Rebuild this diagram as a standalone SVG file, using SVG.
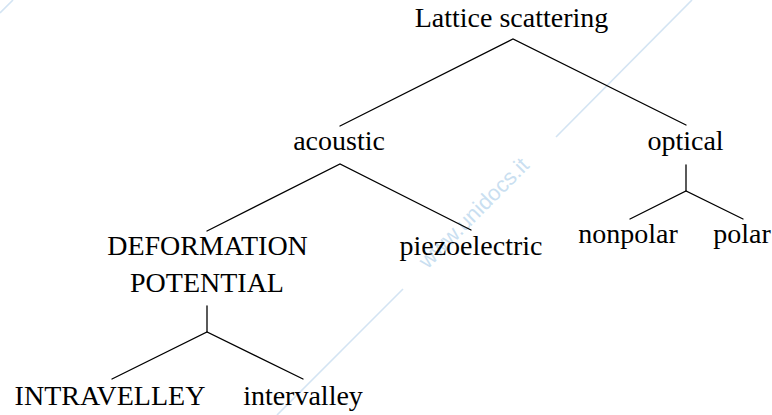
<svg xmlns="http://www.w3.org/2000/svg" width="772" height="415" viewBox="0 0 772 415">
  <style>
    .lbl { font-family: "Liberation Serif", "Times New Roman", serif; font-size: 28px; fill: #000; text-anchor: middle; }
    .edge { stroke: #000; stroke-width: 1.3; fill: none; stroke-linecap: round; }
    .wm { stroke: #d3e4f3; stroke-width: 1.6; fill: none; }
    .wmtext { font-family: "Liberation Sans", Arial, sans-serif; font-size: 22px; fill: #cadff1; text-anchor: middle; }
  </style>
  <rect width="772" height="415" fill="#fff"/>

  <!-- faint background watermark -->
  <g id="watermark">
    <line class="wm" x1="0" y1="13" x2="13" y2="0"/>
    <line class="wm" x1="556" y1="137" x2="692" y2="0"/>
    <line class="wm" x1="403" y1="289" x2="277" y2="415"/>
    <text class="wmtext" x="479" y="218" transform="rotate(-45 479 218)">www.unidocs.it</text>
  </g>

  <!-- tree branches -->
  <g id="connectors">
    <polyline class="edge" points="340,126 513,39 686,125"/>
    <polyline class="edge" points="207,231 340,164 471,230"/>
    <line class="edge" x1="686" y1="165" x2="686" y2="191"/>
    <polyline class="edge" points="630,219 686,191 743,219"/>
    <line class="edge" x1="207" y1="306" x2="207" y2="332"/>
    <polyline class="edge" points="112,379 207,332 303,379"/>
  </g>

  <g id="lattice"><text class="lbl" x="511.5" y="27">Lattice scattering</text></g>
  <g id="acoustic"><text class="lbl" x="339" y="150">acoustic</text></g>
  <g id="optical"><text class="lbl" x="685.5" y="150">optical</text></g>
  <g id="deformation">
    <text class="lbl" x="207.5" y="255">DEFORMATION</text>
    <text class="lbl" x="207" y="292">POTENTIAL</text>
  </g>
  <g id="piezoelectric"><text class="lbl" x="471" y="255">piezoelectric</text></g>
  <g id="nonpolar"><text class="lbl" x="628" y="243">nonpolar</text></g>
  <g id="polar"><text class="lbl" x="742" y="243">polar</text></g>
  <g id="intravalley"><text class="lbl" x="110" y="405">INTRAVELLEY</text></g>
  <g id="intervalley"><text class="lbl" x="303" y="405">intervalley</text></g>
</svg>
